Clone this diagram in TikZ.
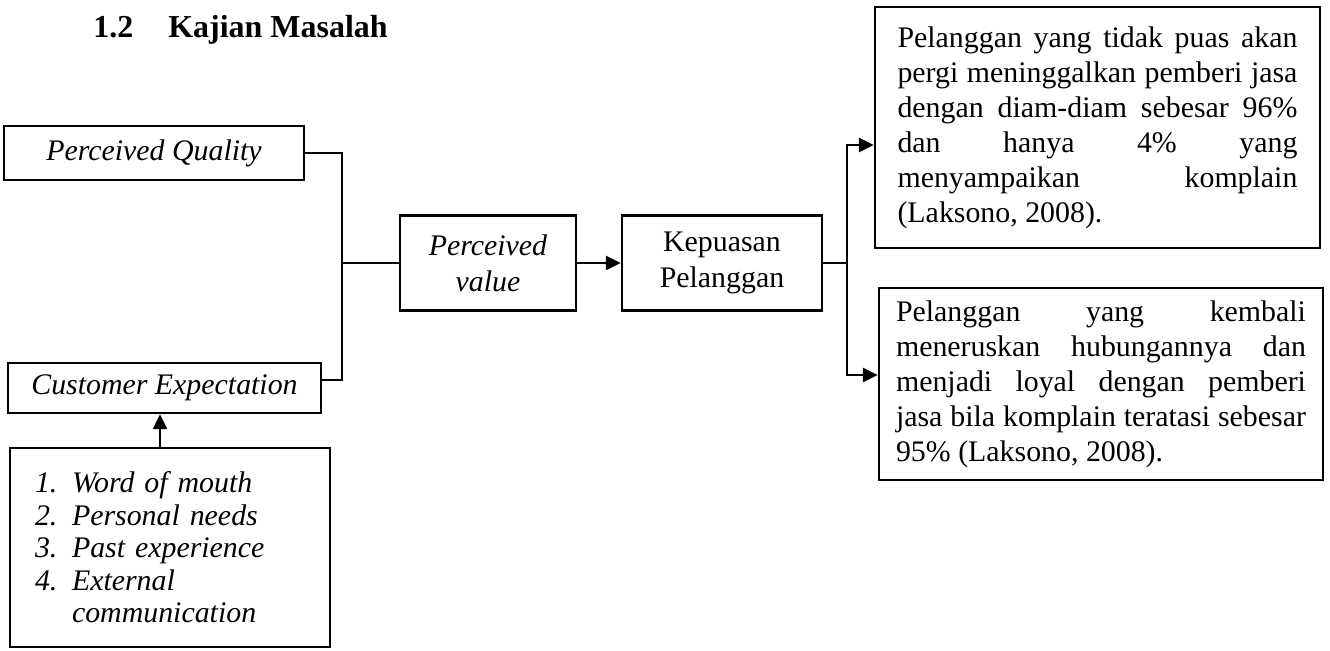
\documentclass[tikz,border=0pt]{standalone}
\usepackage{fontspec}
\setmainfont{Liberation Serif}
\usetikzlibrary{arrows.meta}
\newcommand{\bodyfont}{\fontsize{17}{19.9}\selectfont}
\newcommand{\litem}[2]{\makebox[0.74cm][l]{#1}#2}

\begin{document}
\begin{tikzpicture}[x=0.02cm,y=-0.02cm,
  box/.style={draw,line width=1.4pt,inner sep=2pt,font=\bodyfont,align=center},
  para/.style={box,align=justify},
  ln/.style={line width=1.4pt},
  arr/.style={line width=1.4pt,-{Triangle[length=0.3cm,width=0.28cm]}}]
  \useasboundingbox (0,0) rectangle (1330,651);
  \node[anchor=base west,inner sep=0pt,font=\fontsize{18.2}{22}\selectfont\bfseries] (head) at (93,38) {1.2\hspace{0.7cm}Kajian Masalah};
  \node[box,minimum width=6cm,minimum height=1.08cm,font=\bodyfont\itshape] (pq) at (154,153) {Perceived Quality};
  \node[box,minimum width=6.26cm,minimum height=1cm,font=\bodyfont\itshape] (ce) at (164.5,388) {Customer Expectation};
  \node[box,minimum width=6.4cm,minimum height=3.98cm,text width=5.4cm,align=left,
    font=\fontsize{17}{18.5}\selectfont\itshape] (lst) at (170,547.5)
    {\litem{1.}{Word of mouth}\\ \litem{2.}{Personal needs}\\ \litem{3.}{Past experience}\\
     \litem{4.}{External}\\ \litem{}{communication}};
  \node[box,minimum width=3.52cm,minimum height=1.9cm,font=\fontsize{17}{20.5}\selectfont\itshape] (pv) at (488,263) {Perceived\\ value};
  \node[box,minimum width=4cm,minimum height=1.9cm,font=\fontsize{17}{20}\selectfont] (kp) at (722,263) {Kepuasan\\ Pelanggan};
  \node[para,minimum width=8.9cm,minimum height=4.82cm,text width=8cm] (b1) at (1097.5,127.5)
    {Pelanggan yang tidak puas akan\linebreak pergi meninggalkan pemberi jasa\linebreak
     dengan diam-diam sebesar 96\%\linebreak dan hanya 4\% yang\linebreak
     menyampaikan komplain\linebreak (Laksono, 2008).};
  \node[para,minimum width=8.88cm,minimum height=3.84cm,text width=8.2cm] (b2) at (1101,384)
    {Pelanggan yang kembali\linebreak meneruskan hubungannya dan\linebreak
     menjadi loyal dengan pemberi\linebreak jasa bila komplain teratasi sebesar\linebreak
     95\% (Laksono, 2008).};
  \coordinate (jl) at (342,263);
  \coordinate (jr) at (847,263);
  \draw[ln] (pq.east) -| (jl) |- ([yshift=0.16cm]ce.east);
  \draw[ln] (jl) -- (pv.west);
  \draw[arr] (pv.east) -- (kp.west);
  \draw[ln] (kp.east) -- (jr);
  \draw[arr] (jr) |- ([yshift=-0.35cm]b1.west);
  \draw[arr] (jr) |- ([yshift=0.18cm]b2.west);
  \draw[arr] ([xshift=-0.2cm]lst.north) -- ([xshift=-0.2cm]lst.north |- ce.south);
\end{tikzpicture}
\end{document}
